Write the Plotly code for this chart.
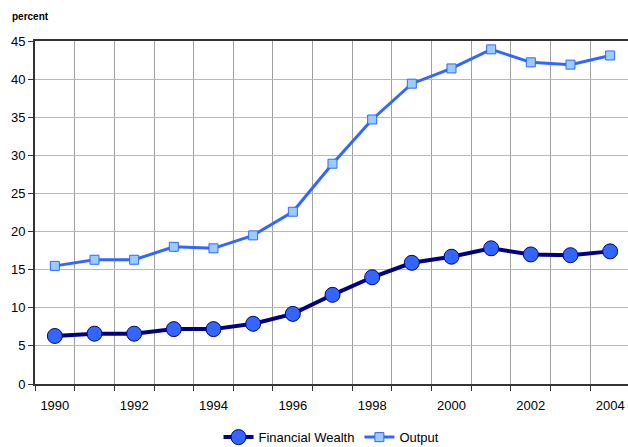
import plotly.graph_objects as go

years = list(range(1990, 2005))
financial_wealth = [6.3, 6.6, 6.6, 7.2, 7.2, 7.9, 9.2, 11.7, 14.0, 15.9, 16.7, 17.8, 17.0, 16.9, 17.4]
output = [15.5, 16.3, 16.3, 18.0, 17.8, 19.5, 22.6, 28.9, 34.7, 39.4, 41.4, 43.9, 42.2, 41.9, 43.1]
x_tick_labels = [str(y) for y in range(1990, 2005, 2)]

fig = go.Figure()
fig.add_trace(go.Scatter(
    x=years, y=financial_wealth, name="Financial Wealth", mode="lines+markers",
    line=dict(color="#000080", width=4),
    marker=dict(symbol="circle", size=15, color="#3366FF", line=dict(color="#000080", width=1)),
))
fig.add_trace(go.Scatter(
    x=years, y=output, name="Output", mode="lines+markers",
    line=dict(color="#3366FF", width=3),
    marker=dict(symbol="square", size=9, color="#99CCFF", line=dict(color="#3366FF", width=1)),
))

fig.update_layout(
    width=628, height=447,
    margin=dict(l=35, r=0, t=41, b=63, autoexpand=False),
    paper_bgcolor="white", plot_bgcolor="white",
    font=dict(family="Liberation Sans, Arial, sans-serif", size=13, color="black"),
    showlegend=True,
    legend=dict(orientation="h", x=0.5, xanchor="center", y=-0.155, yanchor="middle",
                font=dict(size=13), itemwidth=30, tracegroupgap=0),
    annotations=[dict(text="<b>percent</b>", xref="paper", yref="paper", x=-0.043, y=1.072,
                      xanchor="left", yanchor="middle", showarrow=False,
                      font=dict(size=10, color="black"))],
)

fig.update_xaxes(
    range=[1989.5, 2004.45],
    tickmode="array", tickvals=list(range(1990, 2005, 2)), ticktext=x_tick_labels,
    ticks="", showgrid=False, ticklabelstandoff=8,
    showline=True, linecolor="#333333", linewidth=2, mirror=True,
    tickfont=dict(size=13),
    minor=dict(tick0=1989.5, dtick=1, ticks="outside", ticklen=5, tickcolor="#333333",
               tickwidth=1, showgrid=True, gridcolor="#a0a0a0", gridwidth=1),
    zeroline=False,
)
fig.update_yaxes(
    range=[0, 45], dtick=5, tick0=0,
    showgrid=True, gridcolor="#b8b8b8", gridwidth=1,
    showline=True, linecolor="#333333", linewidth=2,
    ticks="outside", ticklen=5, tickcolor="#333333",
    tickfont=dict(size=13), zeroline=False,
)

fig.write_html("out.html", config={"displayModeBar": False},
               post_script="document.body.style.margin='0';document.body.style.overflow='hidden';")
